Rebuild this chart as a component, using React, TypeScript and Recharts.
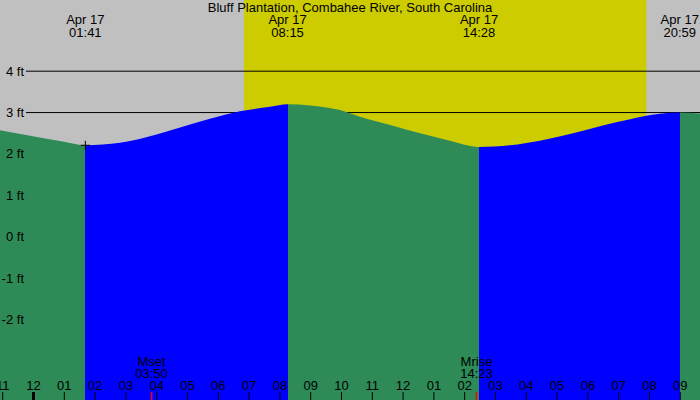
import React from "react";
import {
  ComposedChart,
  Area,
  XAxis,
  YAxis,
  ReferenceArea,
  ReferenceLine,
  ReferenceDot,
} from "recharts";

// Hours since midnight Apr 17 (negative = Apr 16)
const xDomain = [-1.088, 21.64];
const yDomain = [-3.946, 5.72];

// Tide readings (hours, feet)
const tideTimes = [
  -1.088, -0.11, 0.86, 1.683, 2.81, 3.78, 4.76, 5.73, 6.7, 7.68, 8.25, 8.98,
  9.95, 10.6, 11.58, 12.55, 13.52, 14.467, 15.47, 16.44, 17.42, 18.39, 19.37,
  20.34, 20.983, 21.64,
];
const tideHeights = [
  2.57, 2.44, 2.31, 2.21, 2.27, 2.43, 2.64, 2.85, 3.03, 3.14, 3.2, 3.17, 3.06,
  2.9, 2.7, 2.5, 2.32, 2.17, 2.21, 2.32, 2.48, 2.67, 2.84, 2.97, 3.0, 2.98,
];

// Extremes (hours), labels
const extremeTimes = [1.683, 8.25, 14.467, 20.983];
const extremeDates = ["Apr 17", "Apr 17", "Apr 17", "Apr 17"];
const extremeLabels = ["01:41", "08:15", "14:28", "20:59"];
const extremeKinds = ["low", "high", "low", "high"];
const extremeHeights = [2.21, 3.2, 2.17, 3.0];

// Daylight
const sunrise = 6.83;
const sunset = 19.9;

// Moon events
const moonTimes = [3.833, 14.383];
const moonNames = ["Mset", "Mrise"];
const moonLabels = ["03:50", "14:23"];

// Axis ticks
const hourTicks = [
  -1, 0, 1, 2, 3, 4, 5, 6, 7, 8, 9, 10, 11, 12, 13, 14, 15, 16, 17, 18, 19, 20,
  21,
];
const feetTicks = [-2, -1, 0, 1, 2, 3, 4];
const gridFeet = [3, 4];

const title = "Bluff Plantation, Combahee River, South Carolina";

const data = tideTimes.map((t, i) => ({ t, h: tideHeights[i] }));

const FONT = "'Liberation Sans', Arial, sans-serif";
const FS = 13;

// gradient stops: green when falling, blue when rising
const span = xDomain[1] - xDomain[0];
const segStops: { off: number; color: string }[] = [];
{
  const bounds = [xDomain[0], ...extremeTimes, xDomain[1]];
  for (let i = 0; i < bounds.length - 1; i++) {
    const kind =
      i < extremeKinds.length
        ? extremeKinds[i]
        : extremeKinds[i - 1] === "high"
        ? "low"
        : "high";
    const color = kind === "high" ? "#0000FF" : "#2E8B57";
    segStops.push({ off: (bounds[i] - xDomain[0]) / span, color });
    segStops.push({ off: (bounds[i + 1] - xDomain[0]) / span, color });
  }
}

const HourTick = (props: any) => {
  const { x, payload } = props;
  const v = payload.value as number;
  const h = ((v % 12) + 12) % 12 || 12;
  const label = String(h).padStart(2, "0");
  const midnight = ((v % 24) + 24) % 24 === 0;
  return (
    <g>
      <line x1={x} x2={x} y1={392} y2={400} stroke="#000" strokeWidth={midnight ? 3 : 1} />
      <text x={x} y={390} textAnchor="middle" fontSize={FS} fontFamily={FONT} fill="#000">
        {label}
      </text>
    </g>
  );
};

const FeetTick = (props: any) => {
  const { y, payload } = props;
  return (
    <text x={24} y={y + 4.5} textAnchor="end" fontSize={FS} fontFamily={FONT} fill="#000">
      {`${payload.value} ft`}
    </text>
  );
};

const TopLabel = (props: any) => {
  const { viewBox, date, time } = props;
  const x = viewBox.x;
  return (
    <g>
      <text x={x} y={24} textAnchor="middle" fontSize={FS} fontFamily={FONT} fill="#000">
        {date}
      </text>
      <text x={x} y={36.5} textAnchor="middle" fontSize={FS} fontFamily={FONT} fill="#000">
        {time}
      </text>
    </g>
  );
};

const MoonLabel = (props: any) => {
  const { viewBox, name, time } = props;
  const x = viewBox.x;
  return (
    <g>
      <line x1={x} x2={x} y1={392} y2={400} stroke="#FF0000" strokeWidth={1.5} />
      <text x={x} y={366} textAnchor="middle" fontSize={FS} fontFamily={FONT} fill="#000">
        {name}
      </text>
      <text x={x} y={378} textAnchor="middle" fontSize={FS} fontFamily={FONT} fill="#000">
        {time}
      </text>
    </g>
  );
};

const Cross = (props: any) => {
  const { cx, cy } = props;
  return (
    <g>
      <line x1={cx - 4.5} x2={cx + 4.5} y1={cy} y2={cy} stroke="#000" strokeWidth={1} />
      <line x1={cx} x2={cx} y1={cy - 4.5} y2={cy + 4.5} stroke="#000" strokeWidth={1} />
    </g>
  );
};

export default function App() {
  return (
    <div
      style={{
        position: "absolute",
        left: 0,
        top: 0,
        width: 700,
        height: 400,
        background: "#C0C0C0",
        overflow: "hidden",
      }}
    >
      <ComposedChart
        width={700}
        height={400}
        data={data}
        margin={{ top: 0, right: 0, bottom: 0, left: 0 }}
      >
        <defs>
          <linearGradient id="tideFill" x1="0" y1="0" x2="1" y2="0">
            {segStops.map((s, i) => (
              <stop key={i} offset={s.off} stopColor={s.color} stopOpacity={1} />
            ))}
          </linearGradient>
        </defs>
        <XAxis
          dataKey="t"
          type="number"
          domain={xDomain}
          allowDataOverflow
          ticks={hourTicks}
          interval={0}
          mirror
          height={30}
          axisLine={false}
          tickLine={false}
          tick={<HourTick />}
        />
        <YAxis
          type="number"
          domain={yDomain}
          allowDataOverflow
          ticks={feetTicks}
          interval={0}
          mirror
          width={30}
          axisLine={false}
          tickLine={false}
          tick={<FeetTick />}
        />
        <ReferenceArea
          x1={sunrise}
          x2={sunset}
          y1={yDomain[0]}
          y2={yDomain[1]}
          fill="#CCCC00"
          fillOpacity={1}
          stroke="none"
          zIndex={-90}
        />
        {gridFeet.map((f) => (
          <ReferenceLine
            key={f}
            segment={[
              { x: -0.245, y: f },
              { x: xDomain[1], y: f },
            ]}
            stroke="#000"
            strokeWidth={1}
            zIndex={-80}
          />
        ))}
        <Area
          dataKey="h"
          type="monotone"
          baseValue="dataMin"
          fill="url(#tideFill)"
          fillOpacity={1}
          stroke="none"
          isAnimationActive={false}
          dot={false}
          activeDot={false}
        />
        {extremeTimes.map((t, i) => (
          <ReferenceLine
            key={"e" + i}
            x={t}
            stroke="none"
            label={<TopLabel date={extremeDates[i]} time={extremeLabels[i]} />}
          />
        ))}
        {moonTimes.map((t, i) => (
          <ReferenceLine
            key={"m" + i}
            x={t}
            stroke="none"
            label={<MoonLabel name={moonNames[i]} time={moonLabels[i]} />}
          />
        ))}
        <ReferenceDot x={extremeTimes[0]} y={extremeHeights[0]} r={4} shape={<Cross />} />
      </ComposedChart>
      <div
        style={{
          position: "absolute",
          left: 0,
          top: 0,
          width: 700,
          textAlign: "center",
          fontFamily: FONT,
          fontSize: FS,
          lineHeight: "15px",
          color: "#000",
        }}
      >
        {title}
      </div>
    </div>
  );
}
